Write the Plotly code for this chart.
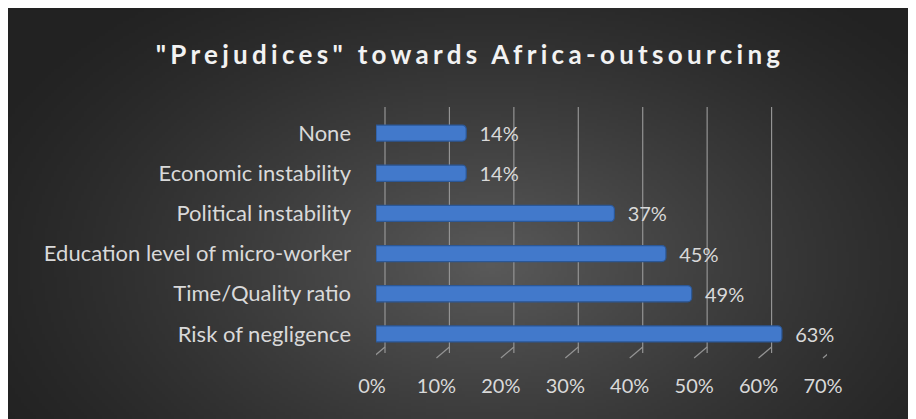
import base64, struct, zlib
import numpy as np
import plotly.graph_objects as go

# ---- data ----
categories = ["Risk of negligence", "Time/Quality ratio", "Education level of micro-worker",
              "Political instability", "Economic instability", "None"]
values = [0.63, 0.49, 0.45, 0.37, 0.14, 0.14]
tick_vals = [0, 0.1, 0.2, 0.3, 0.4, 0.5, 0.6, 0.7]
tick_text = ["0%", "10%", "20%", "30%", "40%", "50%", "60%", "70%"]
title_text = '"Prejudices" towards Africa-outsourcing'

W, H = 908, 411
L, R, T, B = 368, 89, 105, 65
pw, ph = W - L - R, H - T - B


def png_data_uri(arr):
    h, w, _ = arr.shape
    raw = b"".join(b"\x00" + arr[i].astype(np.uint8).tobytes() for i in range(h))
    def chunk(t, d):
        c = struct.pack(">I", len(d)) + t + d
        return c + struct.pack(">I", zlib.crc32(t + d) & 0xffffffff)
    png = b"\x89PNG\r\n\x1a\n" + chunk(b"IHDR", struct.pack(">IIBBBBB", w, h, 8, 2, 0, 0, 0)) \
        + chunk(b"IDAT", zlib.compress(raw, 9)) + chunk(b"IEND", b"")
    return "data:image/png;base64," + base64.b64encode(png).decode()


# radial gradient background (whole chart area)
gw, gh = 303, 137
yy, xx = np.mgrid[0:gh, 0:gw]
cx, cy = 0.53 * gw, 0.62 * gh
d = np.sqrt(((xx - cx) / (0.62 * gw)) ** 2 + ((yy - cy) / (0.85 * gh)) ** 2)
d = np.clip(d, 0, 1)
c_center, c_edge = 90, 34
val = c_edge + (c_center - c_edge) * (1 - d) ** 1.3
img = np.stack([val, val, val], axis=-1)
uri = png_data_uri(img)

fig = go.Figure()
fig.add_layout_image(dict(
    source=uri, xref="paper", yref="paper",
    x=-L / pw, y=1 + T / ph, sizex=W / pw, sizey=H / ph,
    xanchor="left", yanchor="top", sizing="stretch", layer="below"))

fig.add_trace(go.Bar(
    x=values, y=categories, orientation="h",
    marker=dict(color="#4279CB", line=dict(color="#2B5796", width=1.2), cornerradius=4),
    texttemplate="  %{x:.0%}", textposition="outside", constraintext="none",
    outsidetextfont=dict(color="#D9D9D9", size=20, family="Lato"),
    cliponaxis=False, width=0.4, hoverinfo="skip"))

# 3D-style gridlines (back wall + floor diagonals)
for v in tick_vals:
    fig.add_shape(type="line", xref="x", yref="paper", xsizemode="pixel", ysizemode="pixel",
                  xanchor=v, yanchor=1, x0=9, x1=9, y0=6, y1=-240,
                  line=dict(color="#949494", width=1.2), layer="below")
    fig.add_shape(type="line", xref="x", yref="paper", xsizemode="pixel", ysizemode="pixel",
                  xanchor=v, yanchor=0, x0=9, x1=-4, y0=7, y1=-4,
                  line=dict(color="#949494", width=1.2), layer="below")

fig.update_layout(
    width=W, height=H,
    margin=dict(l=L, r=R, t=T, b=B),
    paper_bgcolor="#2A2A2A", plot_bgcolor="rgba(0,0,0,0)",
    showlegend=False,
    title=dict(text='<span style="letter-spacing:4.3px">' + title_text + '</span>',
               x=0.5 + 8 / W, xref="container", xanchor="center", y=1 - 47 / H, yanchor="middle",
               font=dict(family="Lato", size=26, color="#F2F2F2", weight="bold")),
    xaxis=dict(range=[0, 0.7], tickvals=tick_vals, ticktext=tick_text, showgrid=False,
               zeroline=False, showline=False, ticks="", ticklabelstandoff=18,
               ticklabelshift=-4,
               tickfont=dict(family="Lato", size=20, color="#D9D9D9"), fixedrange=True),
    yaxis=dict(categoryorder="array", categoryarray=categories, showgrid=False,
               zeroline=False, showline=False, ticks="", ticklabelstandoff=24,
               tickfont=dict(family="Lato", size=22, color="#D9D9D9"), fixedrange=True),
    bargap=0.6,
)

fig.write_html("out.html")
